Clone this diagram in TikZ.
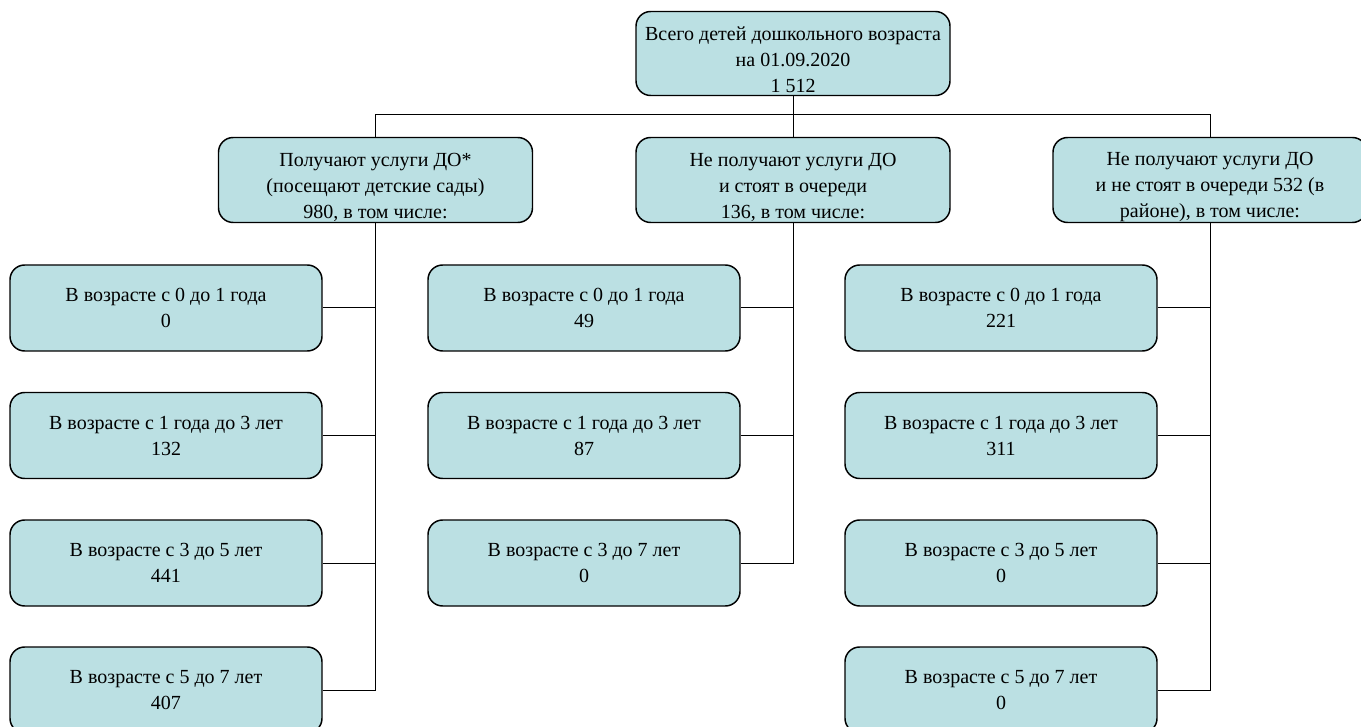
\documentclass[tikz,border=0pt]{standalone}
\usepackage{fontspec}
\setmainfont{Liberation Serif}
\definecolor{boxfill}{HTML}{BBE0E3}
\begin{document}
\begin{tikzpicture}[x=0.75pt,y=-0.75pt,
  box/.style={draw=black, fill=boxfill, line width=1.1pt, rounded corners=11pt,
    align=center, inner sep=0pt, font=\fontsize{15}{19.5}\selectfont},
  topbox/.style={box, minimum width=235.5pt, minimum height=63pt},
  midbox/.style={box, minimum width=235.5pt, minimum height=63.75pt},
  agebox/.style={box, minimum width=234pt, minimum height=64.5pt},
  txt/.style={align=center, inner sep=0pt, font=\fontsize{15}{19.5}\selectfont},
  link/.style={draw=black, line width=0.75pt}]
\useasboundingbox (0,0) rectangle (1361,727);
\clip (0,0) rectangle (1361,727);
% top
\node[topbox] (top) at (793,53.5) {};
\node[txt] (toptext) at ([yshift=-5pt]top.center) {Всего детей дошкольного возраста\\на 01.09.2020\\1 512};
% level 2
\node[midbox] (L) at (375.5,180) {};
\node[txt] (Ltext) at ([yshift=-5.25pt]L.center) {Получают услуги ДО*\\(посещают детские сады)\\980, в том числе:};
\node[midbox] (M) at (793,180) {};
\node[txt] (Mtext) at ([yshift=-5.25pt]M.center) {Не получают услуги ДО\\и стоят в очереди\\136, в том числе:};
\node[midbox] (R) at (1210,180) {};
\node[txt] (Rtext) at ([yshift=-5.25pt]R.center) {Не получают услуги ДО\\и не стоят в очереди 532 (в\\районе), в том числе:};
% left column
\node[agebox] (l1) at (166,308) {В возрасте с 0 до 1 года\\0};
\node[agebox] (l2) at (166,435.5) {В возрасте с 1 года до 3 лет\\132};
\node[agebox] (l3) at (166,563) {В возрасте с 3 до 5 лет\\441};
\node[agebox] (l4) at (166,690) {В возрасте с 5 до 7 лет\\407};
% middle column
\node[agebox] (m1) at (584,308) {В возрасте с 0 до 1 года\\49};
\node[agebox] (m2) at (584,435.5) {В возрасте с 1 года до 3 лет\\87};
\node[agebox] (m3) at (584,563) {В возрасте с 3 до 7 лет\\0};
% right column
\node[agebox] (r1) at (1001,308) {В возрасте с 0 до 1 года\\221};
\node[agebox] (r2) at (1001,435.5) {В возрасте с 1 года до 3 лет\\311};
\node[agebox] (r3) at (1001,563) {В возрасте с 3 до 5 лет\\0};
\node[agebox] (r4) at (1001,690) {В возрасте с 5 до 7 лет\\0};
% connectors
\coordinate (bus) at (0,115);
\draw[link] (top.south) -- (M.north);
\draw[link] (L.north) |- (bus -| R.north) -- (R.north);
\draw[link] (L.south) |- (l4.east);
\draw[link] (l1.east) -- (l1.east -| L.south);
\draw[link] (l2.east) -- (l2.east -| L.south);
\draw[link] (l3.east) -- (l3.east -| L.south);
\draw[link] (M.south) |- (m3.east);
\draw[link] (m1.east) -- (m1.east -| M.south);
\draw[link] (m2.east) -- (m2.east -| M.south);
\draw[link] (R.south) |- (r4.east);
\draw[link] (r1.east) -- (r1.east -| R.south);
\draw[link] (r2.east) -- (r2.east -| R.south);
\draw[link] (r3.east) -- (r3.east -| R.south);
\end{tikzpicture}
\end{document}
